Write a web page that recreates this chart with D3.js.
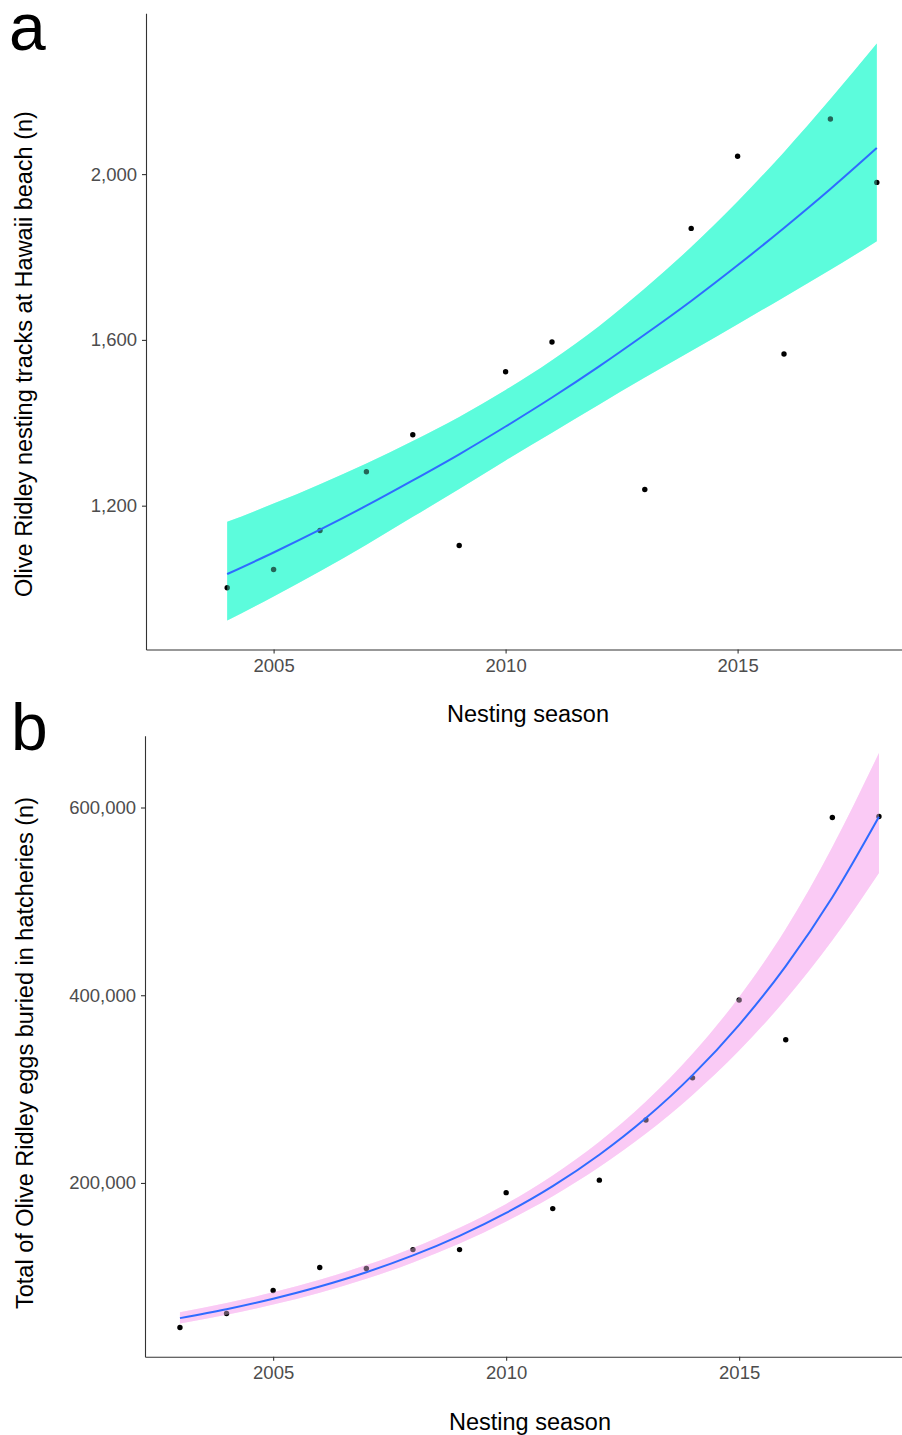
<!DOCTYPE html>
<html>
<head>
<meta charset="utf-8">
<script src="https://cdn.jsdelivr.net/npm/d3@7"></script>
<style>
  body { margin: 0; background: #fff; }
  svg { display: block; font-family: "Liberation Sans", Arial, sans-serif; }
</style>
</head>
<body>
<div class="container"></div>
<script>
var w = 902;
var h = 1435;

// panel a: nesting tracks
var yearsA = [2004, 2005, 2006, 2007, 2008, 2009, 2010, 2011, 2013, 2014, 2015, 2016, 2017, 2018];
var tracksA = [1002, 1046, 1140, 1282, 1371, 1104, 1523, 1595, 1239, 1869, 2043, 1566, 2133, 1980];
var fitYearsA = [2004, 2005, 2006, 2007, 2008, 2009, 2010, 2011, 2012, 2013, 2014, 2015, 2016, 2017, 2018];
var fitA = [1035, 1087, 1142, 1200, 1261, 1324, 1391, 1461, 1535, 1613, 1694, 1780, 1870, 1964, 2063];
var lowA = [923, 981, 1042, 1106, 1173, 1240, 1309, 1376, 1443, 1509, 1573, 1638, 1703, 1769, 1838];
var highA = [1161, 1205, 1252, 1302, 1356, 1414, 1479, 1551, 1632, 1724, 1824, 1934, 2053, 2181, 2315];
var yTicksA = [1200, 1600, 2000];

// panel b: eggs buried in hatcheries
var yearsB = [2003, 2004, 2005, 2006, 2007, 2008, 2009, 2010, 2011, 2012, 2013, 2014, 2015, 2016, 2017, 2018];
var eggsB = [46000, 61000, 85400, 109900, 108800, 129000, 129000, 189700, 172700, 203000, 267000, 312000, 395000, 352500, 589400, 590400];
var fitB = [56000, 65500, 76700, 89700, 104900, 122800, 143700, 168100, 196600, 230100, 269200, 314900, 368500, 431100, 504400, 590100];
var lowB = [50400, 59600, 70400, 83000, 97900, 115300, 135500, 158900, 185900, 217000, 252700, 293800, 341100, 395700, 458600, 530300];
var highB = [62200, 72100, 83500, 96900, 112500, 130800, 152300, 177700, 208000, 243900, 286700, 337600, 398100, 470500, 558000, 658000];
var yTicksB = [200000, 400000, 600000];

var xTicks = [2005, 2010, 2015];

var svg = d3
  .select(".container")
  .append("svg")
  .attr("width", w)
  .attr("height", h);

function panel(o) {
  var x = d3.scaleLinear().domain([2002.25, 2018.75]).range([o.left, o.left + 16.5 * o.pxYear]);
  var y = d3.scaleLinear().domain(o.yDomain).range([o.bottom, o.top]);

  var band = o.fitYears.map((d, i) => ({ x: d, lo: o.low[i], hi: o.high[i], fit: o.fit[i] }));
  var pts = o.years.map((d, i) => ({ x: d, v: o.values[i] }));

  var area = d3.area()
    .x(d => x(d.x))
    .y0(d => y(d.lo))
    .y1(d => y(d.hi))
    .curve(d3.curveMonotoneX);
  var line = d3.line()
    .x(d => x(d.x))
    .y(d => y(d.fit))
    .curve(d3.curveMonotoneX);

  var g = svg.append("g");

  g.append("path").datum(band).attr("d", area).attr("fill", o.fill);

  g.selectAll("circle")
    .data(pts)
    .enter()
    .append("circle")
    .attr("cx", d => x(d.x))
    .attr("cy", d => y(d.v))
    .attr("r", 2.7)
    .attr("fill", "#000");

  // second pass of the ribbon darkens the points that sit under it
  g.append("path").datum(band).attr("d", area).attr("fill", o.fill).attr("opacity", 0.4);

  g.append("path")
    .datum(band)
    .attr("d", line)
    .attr("fill", "none")
    .attr("stroke", "#2f6bff")
    .attr("stroke-width", 2);

  var xAxis = g.append("g")
    .attr("transform", "translate(0," + o.bottom + ")")
    .call(d3.axisBottom(x).tickValues(xTicks).tickFormat(d3.format("d")).tickSize(4).tickPadding(5).tickSizeOuter(0));
  var yAxis = g.append("g")
    .attr("transform", "translate(" + o.left + ",0)")
    .call(d3.axisLeft(y).tickValues(o.yTicks).tickFormat(d3.format(",")).tickSize(4).tickPadding(5).tickSizeOuter(0));

  [xAxis, yAxis].forEach(a => {
    a.select(".domain").attr("stroke", "#333").attr("stroke-width", 1.1);
    a.selectAll(".tick line").attr("stroke", "#333").attr("stroke-width", 1.1);
    a.selectAll(".tick text")
      .attr("fill", "#4d4d4d")
      .style("font-size", "18.5px")
      .style("font-family", "'Liberation Sans', Arial, sans-serif");
  });

  svg.append("text")
    .attr("x", o.titleX)
    .attr("y", o.titleY)
    .attr("text-anchor", "middle")
    .style("font-size", "23.5px")
    .text("Nesting season");

  svg.append("text")
    .attr("transform", "translate(" + o.yTitleX + "," + o.yTitleY + ") rotate(-90)")
    .attr("text-anchor", "middle")
    .style("font-size", "23.5px")
    .text(o.yTitle);

  svg.append("text")
    .attr("x", o.tagX)
    .attr("y", o.tagY)
    .style("font-size", "66px")
    .text(o.tag);
}

panel({
  left: 146, pxYear: 46.4, top: 13.3, bottom: 649.5,
  yDomain: [853, 2388],
  years: yearsA, values: tracksA,
  fitYears: fitYearsA, fit: fitA, low: lowA, high: highA,
  yTicks: yTicksA, fill: "#5cfcdc",
  titleX: 528, titleY: 722,
  yTitleX: 32, yTitleY: 354,
  yTitle: "Olive Ridley nesting tracks at Hawaii beach (n)",
  tag: "a", tagX: 9, tagY: 50
});

panel({
  left: 145, pxYear: 46.6, top: 735.7, bottom: 1356.7,
  yDomain: [14900, 676500],
  years: yearsB, values: eggsB,
  fitYears: yearsB, fit: fitB, low: lowB, high: highB,
  yTicks: yTicksB, fill: "#fbcaf5",
  titleX: 530, titleY: 1430,
  yTitleX: 33, yTitleY: 1053,
  yTitle: "Total of Olive Ridley eggs buried in hatcheries (n)",
  tag: "b", tagX: 11, tagY: 750
});
</script>
</body>
</html>
